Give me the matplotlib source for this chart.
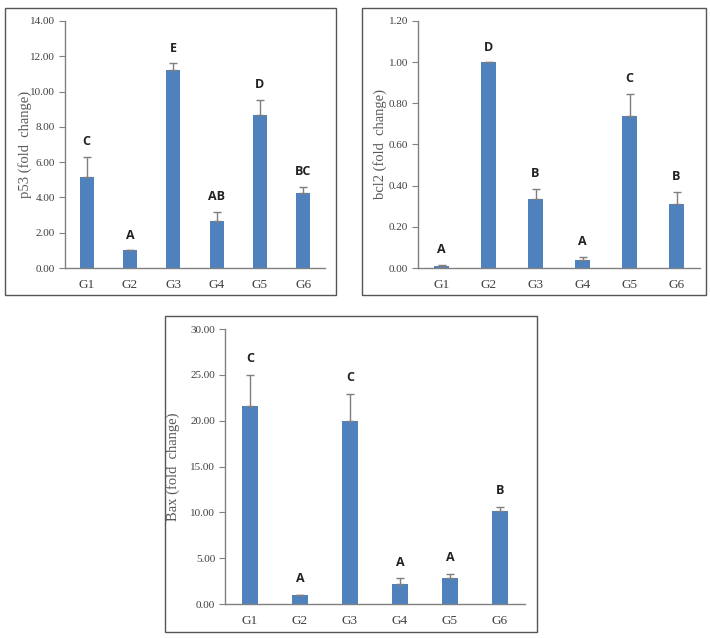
import matplotlib
matplotlib.use("Agg")
import matplotlib.pyplot as plt
from matplotlib.patches import Rectangle

groups = ["G1", "G2", "G3", "G4", "G5", "G6"]

p53_vals = [5.15, 1.00, 11.20, 2.65, 8.65, 4.25]
p53_err = [1.15, 0.0, 0.40, 0.55, 0.90, 0.35]
p53_letters = ["C", "A", "E", "AB", "D", "BC"]

bcl2_vals = [0.010, 1.00, 0.335, 0.040, 0.740, 0.310]
bcl2_err = [0.005, 0.0, 0.050, 0.015, 0.105, 0.060]
bcl2_letters = ["A", "D", "B", "A", "C", "B"]

bax_vals = [21.6, 0.95, 19.95, 2.15, 2.85, 10.15]
bax_err = [3.4, 0.08, 2.95, 0.65, 0.45, 0.45]
bax_letters = ["C", "A", "C", "A", "A", "B"]

W, H = 710, 638
fig = plt.figure(figsize=(7.10, 6.38), dpi=100)

BAR = "#4F81BD"
AX = "#808080"
TXT = "#404040"

def frac(x0, y0, x1, y1):
    return [x0 / W, 1 - y1 / H, (x1 - x0) / W, (y1 - y0) / H]

def box(x0, y0, x1, y1):
    fig.patches.append(Rectangle((x0 / W, 1 - y1 / H), (x1 - x0) / W, (y1 - y0) / H,
                                 transform=fig.transFigure, fill=False,
                                 edgecolor="#555555", linewidth=1.0))

def panel(rect, vals, errs, letters, ymax, step, ylabel, lx):
    ax = fig.add_axes(frac(*rect))
    x = list(range(len(groups)))
    ax.bar(x, vals, width=0.32, color=BAR, zorder=2)
    ax.errorbar(x, vals, yerr=[[0] * len(errs), errs], fmt="none",
                ecolor="#7f7f7f", elinewidth=1.0, capsize=3, capthick=1.0, zorder=3)
    ax.set_xlim(-0.5, len(groups) - 0.5)
    ax.set_ylim(0, ymax)
    ticks = [i * step for i in range(int(round(ymax / step)) + 1)]
    ax.set_yticks(ticks)
    ax.set_yticklabels([f"{t:.2f}" for t in ticks], fontfamily="Liberation Serif",
                       fontsize=8, color=TXT)
    ax.set_xticks(x)
    ax.set_xticklabels(groups, fontfamily="Liberation Serif", fontsize=9.5, color=TXT)
    for s in ["top", "right"]:
        ax.spines[s].set_visible(False)
    for s in ["left", "bottom"]:
        ax.spines[s].set_color(AX)
        ax.spines[s].set_linewidth(1.0)
    ax.tick_params(axis="y", length=4, color=AX, pad=3)
    ax.tick_params(axis="x", length=0, pad=8)
    ax.set_ylabel(ylabel, fontfamily="Liberation Serif", fontsize=10.5, color="#595959")
    ax.yaxis.set_label_coords(lx, 0.5)
    off = ymax * 0.035
    for xi, v, e, l in zip(x, vals, errs, letters):
        ax.text(xi, v + e + off, l, ha="center", va="bottom", fontsize=9,
                fontweight="bold", fontfamily="Open Sans", color="#222222")
    return ax

box(5, 8, 336, 295)
panel((65, 21, 325, 268), p53_vals, p53_err, p53_letters, 14, 2, "p53 (fold  change)", -0.127)

box(362, 8, 706, 295)
panel((418, 21, 700, 268), bcl2_vals, bcl2_err, bcl2_letters, 1.2, 0.2, "bcl2 (fold  change)", -0.11)

box(165, 316, 537, 632)
panel((225, 329, 525, 604), bax_vals, bax_err, bax_letters, 30, 5, "Bax (fold  change)", -0.15)

fig.savefig("out.png", dpi=100)
